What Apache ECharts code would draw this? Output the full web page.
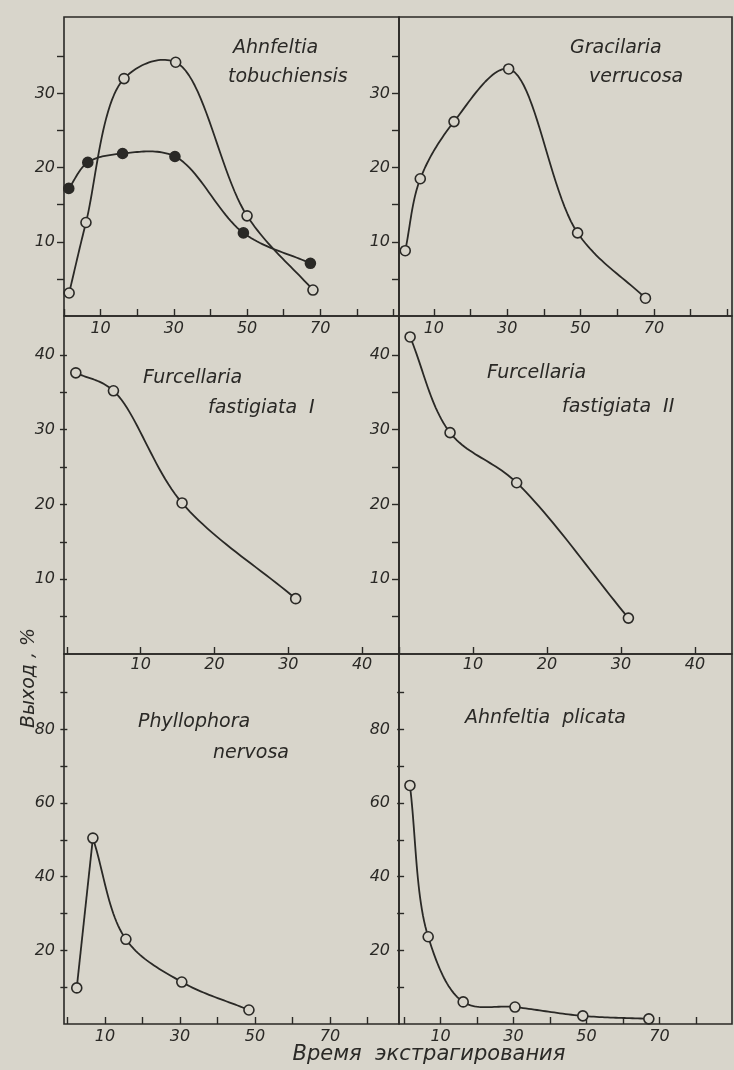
<!DOCTYPE html>
<html>
<head>
<meta charset="utf-8">
<script src="https://cdn.jsdelivr.net/npm/echarts@6/dist/echarts.min.js"></script>
<style>
html,body{margin:0;padding:0;background:#d8d5cb;}
#c{width:734px;height:1070px;}
</style>
</head>
<body>
<div id="c"></div>
<script>
// ---------- data (time of extraction, yield %) ----------
const tobTimeOpen   = [1.4, 6, 16.4, 30.5, 50, 68];
const tobYieldOpen  = [3.1, 12.6, 32, 34.2, 13.5, 3.5];
const tobTimeFilled = [1.3, 6.5, 16, 30.3, 49, 67.3];
const tobYieldFilled= [17.2, 20.7, 21.9, 21.5, 11.2, 7.1];

const graTime  = [2.2, 6.3, 15.5, 30.4, 49.2, 67.7];
const graYield = [8.8, 18.5, 26.2, 33.3, 11.2, 2.4];

const furITime  = [1.2, 6.3, 15.6, 31];
const furIYield = [37.6, 35.2, 20.2, 7.4];

const furIITime  = [1.5, 6.9, 15.9, 31];
const furIIYield = [42.4, 29.6, 22.9, 4.8];

const phyTime  = [2.5, 6.8, 15.6, 30.5, 48.4];
const phyYield = [9.8, 50.5, 23, 11.4, 3.8];

const pliTime  = [1.6, 6.6, 16.2, 30.4, 49, 67.1];
const pliYield = [64.8, 23.7, 6, 4.6, 2.2, 1.4];

// tick values / tick labels
const xTicksLong   = [0, 10, 20, 30, 40, 50, 60, 70, 80, 90];
const xLabelsLong  = [10, 30, 50, 70];
const xTicksShort  = [0, 10, 20, 30, 40];
const xLabelsShort = [10, 20, 30, 40];
const yTicksRow1   = [5, 10, 15, 20, 25, 30, 35];
const yLabelsRow1  = [10, 20, 30];
const yTicksRow2   = [5, 10, 15, 20, 25, 30, 35, 40];
const yLabelsRow2  = [10, 20, 30, 40];
const yTicksRow3   = [10, 20, 30, 40, 50, 60, 70, 80, 90];
const yLabelsRow3  = [20, 40, 60, 80];

const titles = [
  {lines: ['Ahnfeltia', 'tobuchiensis'], pos: [[233, 48], [228, 77]]},
  {lines: ['Gracilaria', 'verrucosa'],   pos: [[570, 48], [589, 77]]},
  {lines: ['Furcellaria', 'fastigiata  I'], pos: [[143, 378], [208, 408]]},
  {lines: ['Furcellaria', 'fastigiata  II'], pos: [[487, 373], [562, 407]]},
  {lines: ['Phyllophora', 'nervosa'],    pos: [[138, 722], [213, 753]]},
  {lines: ['Ahnfeltia  plicata'],        pos: [[465, 718]]}
];
const yName = 'Выход , %';
const xName = 'Время  экстрагирования';

// ---------- layout ----------
const INK = '#2a2926';
const BG = '#d8d5cb';
const FONT = 'DejaVu Sans';
const colX = [[64, 399], [399, 732]];
const rowY = [[17, 316], [316, 654], [654, 1024]];

const panels = [
  {col:0,row:0,xMin:0,xMax:91.5,xT:xTicksLong,xL:xLabelsLong,yMax:40.3,yT:yTicksRow1,yL:yLabelsRow1,lm:5},
  {col:1,row:0,xMin:0.5,xMax:91.3,xT:xTicksLong,xL:xLabelsLong,yMax:40.3,yT:yTicksRow1,yL:yLabelsRow1,lm:5},
  {col:0,row:1,xMin:-0.4,xMax:45,xT:xTicksShort,xL:xLabelsShort,yMax:45.2,yT:yTicksRow2,yL:yLabelsRow2,lm:3},
  {col:1,row:1,xMin:0,xMax:45,xT:xTicksShort,xL:xLabelsShort,yMax:45.2,yT:yTicksRow2,yL:yLabelsRow2,lm:3},
  {col:0,row:2,xMin:-0.9,xMax:88.4,xT:xTicksLong,xL:xLabelsLong,yMax:100.5,yT:yTicksRow3,yL:yLabelsRow3,lm:5},
  {col:1,row:2,xMin:-1.4,xMax:89.9,xT:xTicksLong,xL:xLabelsLong,yMax:100.5,yT:yTicksRow3,yL:yLabelsRow3,lm:5}
];

const grid = [], xAxis = [], yAxis = [];
const labelStyle = {color: INK, fontFamily: FONT, fontStyle: 'italic', fontSize: 16};
panels.forEach(function (p, i) {
  const cx = colX[p.col], ry = rowY[p.row];
  grid.push({left: cx[0], top: ry[0], width: cx[1] - cx[0], height: ry[1] - ry[0],
    show: true, borderColor: INK, borderWidth: 1.6, backgroundColor: 'transparent', containLabel: false});
  xAxis.push({type: 'value', gridIndex: i, min: p.xMin, max: p.xMax,
    axisLine: {show: false}, splitLine: {show: false},
    axisTick: {show: true, inside: true, length: 7, customValues: p.xT, lineStyle: {color: INK, width: 1.4}},
    axisLabel: Object.assign({margin: p.lm, customValues: p.xL}, labelStyle)});
  yAxis.push({type: 'value', gridIndex: i, min: 0, max: p.yMax,
    axisLine: {show: false}, splitLine: {show: false},
    axisTick: {show: true, inside: false, length: 7, customValues: p.yT, lineStyle: {color: INK, width: 1.4}},
    axisLabel: Object.assign({margin: 9, customValues: p.yL}, labelStyle)});
});

function pts(xs, ys) { return xs.map(function (x, k) { return [x, ys[k]]; }); }

// centripetal Catmull-Rom through pixel positions given by the axes
function catmull(P) {
  const n = P.length;
  if (n < 3) return P.slice();
  const ext = [[2 * P[0][0] - P[1][0], 2 * P[0][1] - P[1][1]]].concat(P,
    [[2 * P[n - 1][0] - P[n - 2][0], 2 * P[n - 1][1] - P[n - 2][1]]]);
  const out = [P[0]];
  function lerp(a, b, ta, tb, t) {
    const d = tb - ta || 1e-6;
    return [a[0] * (tb - t) / d + b[0] * (t - ta) / d, a[1] * (tb - t) / d + b[1] * (t - ta) / d];
  }
  function td(a, b) { return Math.pow(Math.hypot(b[0] - a[0], b[1] - a[1]) || 1e-6, 0.5); }
  for (let i = 1; i < ext.length - 2; i++) {
    const p0 = ext[i - 1], p1 = ext[i], p2 = ext[i + 1], p3 = ext[i + 2];
    const t0 = 0, t1 = t0 + td(p0, p1), t2 = t1 + td(p1, p2), t3 = t2 + td(p2, p3);
    for (let s = 1; s <= 24; s++) {
      const t = t1 + (t2 - t1) * s / 24;
      const A1 = lerp(p0, p1, t0, t1, t), A2 = lerp(p1, p2, t1, t2, t), A3 = lerp(p2, p3, t2, t3, t);
      const B1 = lerp(A1, A2, t0, t2, t), B2 = lerp(A2, A3, t1, t3, t);
      out.push(lerp(B1, B2, t1, t2, t));
    }
  }
  return out;
}

function curve(idx, data) {
  return {type: 'custom', xAxisIndex: idx, yAxisIndex: idx, data: data, silent: true, clip: false, z: 2,
    animation: false,
    renderItem: function (params, api) {
      if (params.dataIndex !== 0) return null;
      const P = data.map(function (d) { return api.coord(d); });
      return {type: 'polyline', shape: {points: catmull(P)},
        style: {stroke: INK, lineWidth: 1.8, fill: 'none', lineJoin: 'round'}};
    }};
}
function marks(idx, data, filled) {
  return {type: 'line', xAxisIndex: idx, yAxisIndex: idx, data: data,
    symbol: 'circle', symbolSize: 10, lineStyle: {opacity: 0},
    itemStyle: {color: filled ? INK : BG, borderColor: INK, borderWidth: 1.6},
    z: filled ? 3 : 4, animation: false, silent: true};
}

const tobOpen = pts(tobTimeOpen, tobYieldOpen), tobFilled = pts(tobTimeFilled, tobYieldFilled);
const gra = pts(graTime, graYield), furI = pts(furITime, furIYield), furII = pts(furIITime, furIIYield);
const phy = pts(phyTime, phyYield), pli = pts(pliTime, pliYield);

const series = [
  curve(0, tobOpen), marks(0, tobOpen, false),
  curve(0, tobFilled), marks(0, tobFilled, true),
  curve(1, gra), marks(1, gra, false),
  curve(2, furI), marks(2, furI, false),
  curve(3, furII), marks(3, furII, false),
  curve(4, phy.slice(0, 2)), curve(4, phy.slice(1)), marks(4, phy, false),
  curve(5, pli), marks(5, pli, false)
];

const graphic = [];
titles.forEach(function (t) {
  t.lines.forEach(function (s, k) {
    graphic.push({type: 'text', x: t.pos[k][0], y: t.pos[k][1], silent: true,
      style: {text: s, fill: INK, font: 'italic 19px "' + FONT + '"', verticalAlign: 'middle', align: 'left'}});
  });
});
graphic.push({type: 'text', x: 29, y: 678, rotation: Math.PI / 2, silent: true,
  style: {text: yName, fill: INK, font: 'italic 19px "' + FONT + '"', verticalAlign: 'middle', align: 'center'}});
graphic.push({type: 'text', x: 429, y: 1055, silent: true,
  style: {text: xName, fill: INK, font: 'italic 21px "' + FONT + '"', verticalAlign: 'middle', align: 'center'}});

const chart = echarts.init(document.getElementById('c'), null, {renderer: 'canvas'});
chart.setOption({backgroundColor: BG, animation: false, grid: grid, xAxis: xAxis, yAxis: yAxis, series: series, graphic: graphic});
</script>
</body>
</html>
